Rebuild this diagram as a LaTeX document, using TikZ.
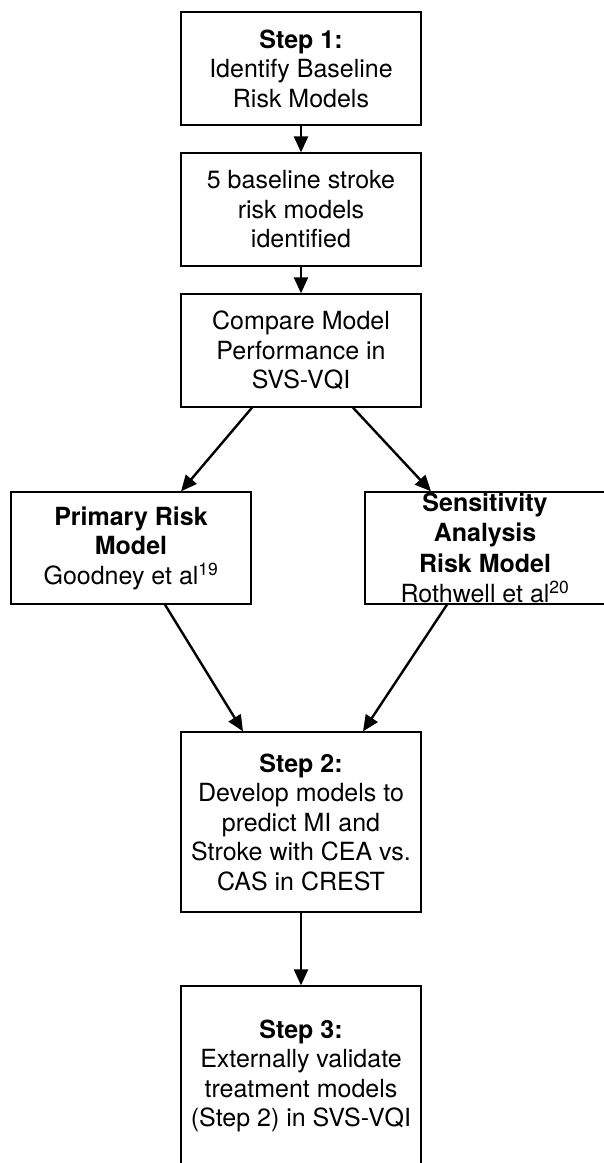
\documentclass[tikz,border=0pt]{standalone}
\usepackage{fontspec}
\setmainfont{TeX Gyre Heros}
\usetikzlibrary{arrows.meta}

\begin{document}
\begin{tikzpicture}[x=1pt,y=-1pt]
 	\tikzstyle{every node}+=[inner sep=0pt]
 	\tikzstyle{stepbox}=[draw=black, line width=1.3pt, minimum width=240pt, align=center, font=\fontsize{25}{29.5}\selectfont]
 	\tikzstyle{link}=[black, line width=2.4pt, -{Triangle[length=16pt,width=14pt]}]
 	\useasboundingbox (0,0) rectangle (603,1163);
 	\fill [white] (0,0) rectangle (603,1163);
 	\node [stepbox, minimum height=113pt] (stepone) at (301,68.5) {\textbf{Step 1:}\\Identify Baseline\\Risk Models};
 	\node [stepbox, minimum height=113pt] (found) at (301,209.5) {5 baseline stroke\\risk models\\identified};
 	\node [stepbox, minimum height=113pt] (compare) at (301,350.5) {Compare Model\\Performance in\\SVS-VQI};
 	\node [stepbox, minimum height=112pt] (primary) at (131,548) {\textbf{Primary Risk}\\\textbf{Model}\\Goodney et al\textsuperscript{19}};
 	\node [stepbox, minimum height=112pt, font=\fontsize{25}{30.5}\selectfont] (sens) at (485,548) {\textbf{Sensitivity}\\\textbf{Analysis}\\\textbf{Risk Model}\\Rothwell et al\textsuperscript{20}};
 	\node [stepbox, minimum height=180pt] (steptwo) at (301,822) {\textbf{Step 2:}\\Develop models to\\predict MI and\\Stroke with CEA vs.\\CAS in CREST};
 	\node [stepbox, minimum height=180pt] (stepthree) at (301,1076) {\textbf{Step 3:}\\Externally validate\\treatment models\\(Step 2) in SVS-VQI};
 	\draw [link] (stepone) -- (found);
 	\draw [link] (found) -- (compare);
 	\draw [link] ([xshift=-49pt]compare.south) -- ([xshift=50pt]primary.north);
 	\draw [link] ([xshift=52pt]compare.south) -- ([xshift=-54pt]sens.north);
 	\draw [link] ([xshift=34pt]primary.south) -- ([xshift=-58pt]steptwo.north);
 	\draw [link] ([xshift=-38pt]sens.south) -- ([xshift=62pt]steptwo.north);
 	\draw [link] (steptwo) -- (stepthree);
\end{tikzpicture}
\end{document}
